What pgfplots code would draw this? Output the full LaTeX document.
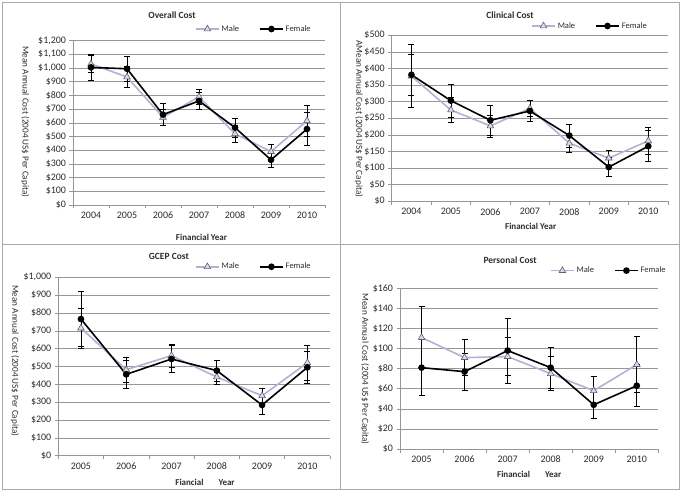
\documentclass[border=0pt]{standalone}
\usepackage{fontspec}
\setmainfont{Carlito}
\usepackage{pgfplots}
\pgfplotsset{compat=1.18}
\definecolor{malec}{RGB}{185,175,212}
\definecolor{malefill}{RGB}{214,221,234}
\definecolor{maleedge}{RGB}{95,95,115}
\definecolor{gridc}{RGB}{150,150,150}
\definecolor{framec}{RGB}{170,170,170}
\definecolor{txt}{RGB}{45,45,45}
\pgfplotsset{
  panel/.style={
    scale only axis, anchor=south west, clip=false,
    axis x line*=bottom, axis y line*=left,
    axis line style={draw=gridc, line width=0.8pt},
    ymajorgrids, grid style={draw=gridc, line width=0.6pt},
    ymin=0,
    tick align=outside,
    major tick length=3.5bp,
    tick style={draw=gridc, line width=0.6pt},
    x tick label as interval,
    tick label style={font=\fontsize{10}{12}\selectfont, text=txt},
    /pgf/number format/assume math mode=true,
    title style={font=\bfseries\fontsize{9.5}{11}\selectfont, anchor=center, yshift=-6pt, text=txt},
    xlabel style={font=\bfseries\fontsize{9}{11}\selectfont, anchor=center, text=txt},
    ylabel style={font=\fontsize{9.2}{10}\selectfont, anchor=center, rotate=180, text=txt},
    legend style={draw=none, fill=none, inner sep=0pt, font=\fontsize{8.5}{10}\selectfont, text=txt, anchor=east,
      /tikz/every even column/.append style={column sep=18bp}},
    legend columns=2,
    legend image code/.code={\draw[mark repeat=2,mark phase=2] plot coordinates {(0bp,0bp) (11.5bp,0bp) (23bp,0bp)};},
  },
  ebars/.style={error bars/.cd, y dir=both, y explicit,
      error bar style={black, line width=0.7pt, solid},
      error mark options={rotate=90, mark size=3bp, black, line width=0.7pt}},
  male/.style={malec, line width=1.6pt, mark=triangle*, mark size=3.8bp,
      mark options={fill=malefill, draw=maleedge, line width=0.6pt}, ebars},
  female/.style={black, line width=1.6pt, mark=*, mark size=2.5bp, ebars},
}
\begin{document}
\begin{tikzpicture}
\useasboundingbox (0,0) rectangle (682bp,492bp);
\fill[white] (0,0) rectangle (682bp,492bp);
\draw[framec, line width=1pt] (2bp,3bp) rectangle (679bp,489bp);
\draw[framec, line width=1.5pt] (340.7bp,3bp) -- (340.7bp,489bp);
\draw[framec, line width=1.5pt] (2bp,247.5bp) -- (679bp,247.5bp);

% Overall Cost
\begin{axis}[panel, at={(73bp,287bp)}, width=252bp, height=164.3bp,
  xmin=-0.5, xmax=6.5, xtick={-0.5,0.5,1.5,2.5,3.5,4.5,5.5,6.5},
  xticklabels={2004,2005,2006,2007,2008,2009,2010},
  ymax=1200, ytick={0,100,200,300,400,500,600,700,800,900,1000,1100,1200},
  yticklabels={\$0,\$100,\$200,\$300,\$400,\$500,\$600,\$700,\$800,\$900,{\$1,000},{\$1,100},{\$1,200}},
  title={Overall Cost}, title style={at={(axis description cs:0.393,1.156)}},
  xlabel={Financial Year}, xlabel style={at={(axis description cs:0.51,-0.195)}},
  ylabel={Mean Annual Cost (2004 US\$ Per Capita)}, ylabel style={at={(axis description cs:-0.19,0.507)}},
  legend style={at={(axis description cs:0.952,1.071)}}]
\addplot[male] coordinates {(0,1030) +- (0,60) (1,935) +- (0,75) (2,640) +- (0,55) (3,790) +- (0,55) (4,520) +- (0,60) (5,390) +- (0,55) (6,615) +- (0,110)};
\addplot[female] coordinates {(0,1005) +- (0,95) (1,995) +- (0,90) (2,660) +- (0,80) (3,760) +- (0,60) (4,565) +- (0,70) (5,330) +- (0,58) (6,555) +- (0,120)};
\legend{Male,Female}
\end{axis}

% Clinical Cost
\begin{axis}[panel, at={(391.7bp,290.7bp)}, width=276.3bp, height=166bp,
  xmin=-0.5, xmax=6.5, xtick={-0.5,0.5,1.5,2.5,3.5,4.5,5.5,6.5},
  xticklabels={2004,2005,2006,2007,2008,2009,2010},
  ymax=500, ytick={0,50,100,150,200,250,300,350,400,450,500},
  yticklabels={\$0,\$50,\$100,\$150,\$200,\$250,\$300,\$350,\$400,\$450,\$500},
  title={Clinical Cost}, title style={at={(axis description cs:0.428,1.122)}},
  xlabel={Financial Year}, xlabel style={at={(axis description cs:0.503,-0.149)}},
  ylabel={AMean Annual Cost (2004 US\$ Per Capita)}, ylabel style={at={(axis description cs:-0.118,0.496)}},
  legend style={at={(axis description cs:0.931,1.056)}}]
\addplot[male] coordinates {(0,377) +- (0,95) (1,275) +- (0,37) (2,227) +- (0,33) (3,280) +- (0,24) (4,175) +- (0,27) (5,130) +- (0,24) (6,182) +- (0,42)};
\addplot[female] coordinates {(0,381) +- (0,63) (1,303) +- (0,50) (2,244) +- (0,44) (3,272) +- (0,32) (4,198) +- (0,34) (5,103) +- (0,28) (6,166) +- (0,47)};
\legend{Male,Female}
\end{axis}

% GCEP Cost
\begin{axis}[panel, at={(58.3bp,36.3bp)}, width=271.7bp, height=178.4bp,
  xmin=-0.5, xmax=5.5, xtick={-0.5,0.5,1.5,2.5,3.5,4.5,5.5},
  xticklabels={2005,2006,2007,2008,2009,2010},
  ymax=1000, ytick={0,100,200,300,400,500,600,700,800,900,1000},
  yticklabels={\$0,\$100,\$200,\$300,\$400,\$500,\$600,\$700,\$800,\$900,{\$1,000}},
  title={GCEP Cost}, title style={at={(axis description cs:0.407,1.119)}},
  xlabel={Fiancial\hspace{15bp}Year}, xlabel style={at={(axis description cs:0.54,-0.151)}},
  ylabel={Mean Annual Cost (2004 US\$ Per Capita)}, ylabel style={at={(axis description cs:-0.159,0.532)}},
  legend style={at={(axis description cs:0.937,1.059)}}]
\addplot[male] coordinates {(0,715) +- (0,111) (1,482) +- (0,70) (2,561) +- (0,63) (3,441) +- (0,41) (4,336) +- (0,42) (5,521) +- (0,97)};
\addplot[female] coordinates {(0,766) +- (0,155) (1,456) +- (0,80) (2,542) +- (0,77) (3,477) +- (0,59) (4,284) +- (0,50) (5,495) +- (0,90)};
\legend{Male,Female}
\end{axis}

% Personal Cost
\begin{axis}[panel, at={(400bp,43bp)}, width=258.3bp, height=160.7bp,
  xmin=-0.5, xmax=5.5, xtick={-0.5,0.5,1.5,2.5,3.5,4.5,5.5},
  xticklabels={2005,2006,2007,2008,2009,2010},
  ymax=160, ytick={0,20,40,60,80,100,120,140,160},
  yticklabels={\$0,\$20,\$40,\$60,\$80,\$100,\$120,\$140,\$160},
  title={Personal Cost}, title style={at={(axis description cs:0.426,1.176)}},
  xlabel={Financial\hspace{15bp}Year}, xlabel style={at={(axis description cs:0.5,-0.157)}},
  ylabel={Mean Annual Cost (2004 US\$ Per Capita)}, ylabel style={at={(axis description cs:-0.1355,0.498)}},
  legend style={at={(axis description cs:1.037,1.11)}}]
\addplot[male] coordinates {(0,111) +- (0,31) (1,91) +- (0,18) (2,92) +- (0,19) (3,75) +- (0,17) (4,58) +- (0,14) (5,84) +- (0,28)};
\addplot[female] coordinates {(0,81) +- (0,28) (1,77) +- (0,18.5) (2,98) +- (0,32.5) (3,81) +- (0,20.5) (4,44) +- (0,13) (5,63) +- (0,21)};
\legend{Male,Female}
\end{axis}
\end{tikzpicture}
\end{document}
